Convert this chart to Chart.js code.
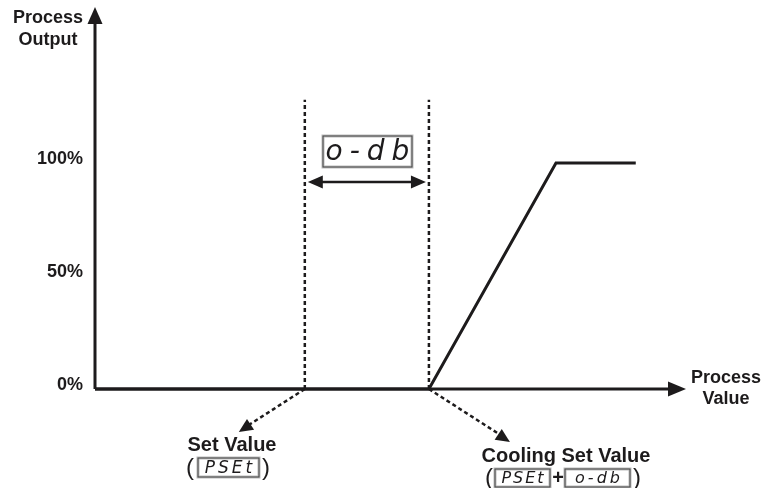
<!DOCTYPE html>
<html>
<head>
<meta charset="utf-8">
<script src="https://cdn.jsdelivr.net/npm/chart.js@4.4.0/dist/chart.umd.min.js"></script>
<style>
  body { margin: 0; background: #fff; }
  #wrap { width: 769px; height: 488px; }
</style>
</head>
<body>
<div id="wrap"><canvas id="chart" width="769" height="488"></canvas></div>
<script>
// data (x in arbitrary process-value units, y in %)
const processValue = [0, 56.5, 78, 91.5];
const outputPct = [0, 0, 100, 100];
const yTicks = [0, 50, 100];
const setValue = 35.5;
const coolingSetValue = 56.5;
const markerTop = 128;   // how high the dashed SV / CSV lines go (in %)

const INK = '#1d1b1c';
const BOLD = 'bold 18px "Liberation Sans", Arial, sans-serif';
const SEG_FONT = 'italic 300 ';

// little boxed 7-segment style readout
function segBox(ctx, txt, x, y, w, h, size, spacing) {
  ctx.save();
  ctx.strokeStyle = '#bbb';
  ctx.lineWidth = 3;
  ctx.strokeRect(x, y, w, h);
  ctx.strokeStyle = '#444';
  ctx.lineWidth = 1;
  ctx.strokeRect(x, y, w, h);
  ctx.fillStyle = INK;
  ctx.font = SEG_FONT + size + 'px "DejaVu Sans", sans-serif';
  ctx.letterSpacing = spacing + 'px';
  ctx.textAlign = 'center';
  ctx.textBaseline = 'middle';
  ctx.fillText(txt, x + w / 2 + spacing / 2, y + h / 2 + 1);
  ctx.restore();
}

function arrowHead(ctx, x1, y1, x2, y2, len, half) {
  const a = Math.atan2(y2 - y1, x2 - x1);
  ctx.beginPath();
  ctx.moveTo(x2, y2);
  ctx.lineTo(x2 - len * Math.cos(a) + half * Math.sin(a), y2 - len * Math.sin(a) - half * Math.cos(a));
  ctx.lineTo(x2 - len * Math.cos(a) - half * Math.sin(a), y2 - len * Math.sin(a) + half * Math.cos(a));
  ctx.closePath();
  ctx.fill();
}

const decorPlugin = {
  id: 'decor',
  afterDatasetsDraw(chart) {
    const ctx = chart.ctx;
    const xs = chart.scales.x, ys = chart.scales.y;
    const area = chart.chartArea;
    const x0 = xs.getPixelForValue(0), y0 = ys.getPixelForValue(0);
    const xSV = xs.getPixelForValue(setValue);
    const xCSV = xs.getPixelForValue(coolingSetValue);

    ctx.save();
    ctx.fillStyle = INK;
    ctx.strokeStyle = INK;

    // axes with arrows
    ctx.lineWidth = 3;
    ctx.beginPath();
    ctx.moveTo(x0, y0);
    ctx.lineTo(x0, area.top + 14);
    ctx.moveTo(x0, y0);
    ctx.lineTo(area.right - 14, y0);
    ctx.stroke();
    arrowHead(ctx, x0, y0, x0, area.top, 17, 7.5);
    arrowHead(ctx, x0, y0, area.right, y0, 18, 7.5);

    // double arrow for the dead band
    const yArr = 182;
    ctx.lineWidth = 2.5;
    ctx.beginPath();
    ctx.moveTo(xSV + 12, yArr);
    ctx.lineTo(xCSV - 12, yArr);
    ctx.stroke();
    arrowHead(ctx, xCSV, yArr, xSV + 3, yArr, 15, 6.5);
    arrowHead(ctx, xSV, yArr, xCSV - 3, yArr, 15, 6.5);
    segBox(ctx, 'o-db', 323, 136, 89, 31, 28, 7);

    // dashed leaders to the labels
    ctx.lineWidth = 2.5;
    ctx.setLineDash([4, 3]);
    ctx.beginPath();
    ctx.moveTo(xSV, y0);
    ctx.lineTo(xSV - 56, y0 + 36);
    ctx.moveTo(xCSV, y0);
    ctx.lineTo(xCSV + 70, y0 + 45);
    ctx.stroke();
    ctx.setLineDash([]);
    arrowHead(ctx, xSV, y0, xSV - 66, y0 + 43, 14, 6.5);
    arrowHead(ctx, xCSV, y0, xCSV + 81, y0 + 53, 14, 6.5);

    // texts
    ctx.font = BOLD;
    ctx.textAlign = 'center';
    ctx.textBaseline = 'middle';
    ctx.fillText('Process', 48, 18);
    ctx.fillText('Output', 48, 40);
    ctx.fillText('Process', 726, 378);
    ctx.fillText('Value', 726, 399);

    ctx.font = 'bold 20px "Liberation Sans", Arial, sans-serif';
    ctx.fillText('Set Value', 232, 445);
    ctx.fillText('Cooling Set Value', 566, 456);

    ctx.font = '24px "Liberation Sans", Arial, sans-serif';
    ctx.fillText('(', 190, 468);
    ctx.fillText(')', 266, 468);
    ctx.fillText('(', 489, 478);
    ctx.fillText(')', 637, 478);
    ctx.font = 'bold 20px "Liberation Sans", Arial, sans-serif';
    ctx.fillText('+', 558, 478);

    segBox(ctx, 'PSEt', 198, 458, 61, 19, 17, 3);
    segBox(ctx, 'PSEt', 495, 469, 55, 18, 16, 2);
    segBox(ctx, 'o-db', 565, 469, 65, 18, 16, 3);
    ctx.restore();
  }
};

new Chart(document.getElementById('chart'), {
  type: 'line',
  data: {
    datasets: [
      {
        data: processValue.map((v, i) => ({ x: v, y: outputPct[i] })),
        borderColor: INK,
        borderWidth: 3,
        pointRadius: 0,
        borderJoinStyle: 'miter',
        clip: false
      },
      {
        data: [{ x: setValue, y: 0 }, { x: setValue, y: markerTop }],
        borderColor: INK,
        borderWidth: 2.5,
        borderDash: [4, 3],
        pointRadius: 0,
        clip: false
      },
      {
        data: [{ x: coolingSetValue, y: 0 }, { x: coolingSetValue, y: markerTop }],
        borderColor: INK,
        borderWidth: 2.5,
        borderDash: [4, 3],
        pointRadius: 0,
        clip: false
      }
    ]
  },
  options: {
    responsive: false,
    animation: false,
    layout: { padding: { left: 0, top: 7, right: 83, bottom: 99 } },
    plugins: { legend: { display: false }, tooltip: { enabled: false } },
    scales: {
      x: { type: 'linear', display: false, min: 0, max: 100 },
      y: {
        type: 'linear',
        min: 0,
        max: 169,
        grid: { display: false, drawTicks: false },
        border: { display: false },
        afterBuildTicks: s => { s.ticks = yTicks.map(v => ({ value: v })); },
        afterFit: s => { s.width = 95; s.paddingTop = 0; s.paddingBottom = 0; },
        ticks: {
          padding: 12,
          labelOffset: -4,
          color: INK,
          font: { family: '"Liberation Sans", Arial, sans-serif', size: 18, weight: 'bold' },
          callback: v => v + '%'
        }
      }
    }
  },
  plugins: [decorPlugin]
});
</script>
</body>
</html>
